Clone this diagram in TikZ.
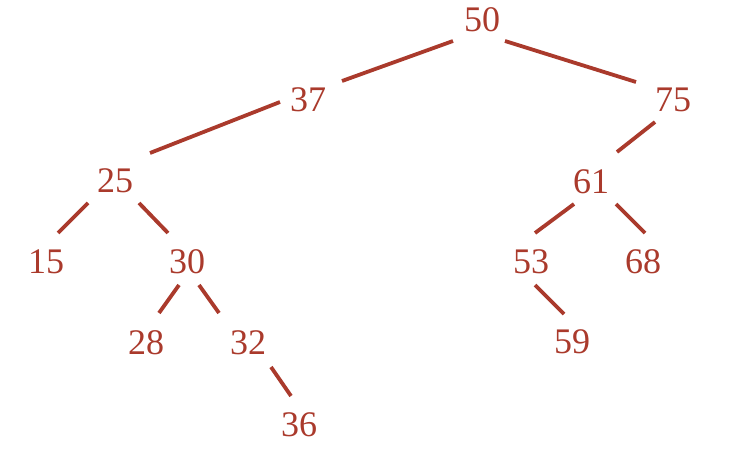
\documentclass[tikz,border=0pt]{standalone}
\usepackage{fontspec}
\setmainfont{Liberation Serif}
\usetikzlibrary{calc}
\definecolor{treered}{RGB}{170,58,44}
\begin{document}
\begin{tikzpicture}[x=1pt,y=-1pt,
  key/.style={inner sep=0pt,text=treered,font=\fontsize{36}{36}\selectfont},
  edge/.style={draw=treered,line width=3.8pt}]
\useasboundingbox (0,0) rectangle (735,454);
\node[key] (n50) at (482,20) {50};
\node[key] (n37) at (308,100) {37};
\node[key] (n75) at (673,100) {75};
\node[key] (n25) at (115,181) {25};
\node[key] (n61) at (591,182) {61};
\node[key] (n15) at (46,262) {15};
\node[key] (n30) at (187,262) {30};
\node[key] (n53) at (531,262) {53};
\node[key] (n68) at (643,262) {68};
\node[key] (n28) at (146,343) {28};
\node[key] (n32) at (248,343) {32};
\node[key] (n59) at (572,342) {59};
\node[key] (n36) at (299,425) {36};
\draw[edge] ($(n50)+(-29,21)$) -- ($(n37)+(34,-19)$);
\draw[edge] ($(n50)+(23,21)$) -- ($(n75)+(-37,-18)$);
\draw[edge] ($(n37)+(-28,2)$) -- ($(n25)+(35,-28)$);
\draw[edge] ($(n75)+(-18,22)$) -- ($(n61)+(26,-30)$);
\draw[edge] ($(n25)+(-27,22)$) -- ($(n15)+(12,-29)$);
\draw[edge] ($(n25)+(24,22)$) -- ($(n30)+(-19,-29)$);
\draw[edge] ($(n30)+(-8,23)$) -- ($(n28)+(13,-30)$);
\draw[edge] ($(n30)+(12,23)$) -- ($(n32)+(-29,-30)$);
\draw[edge] ($(n32)+(23,24)$) -- ($(n36)+(-8,-29)$);
\draw[edge] ($(n61)+(-17,22)$) -- ($(n53)+(4,-29)$);
\draw[edge] ($(n61)+(25,22)$) -- ($(n68)+(2,-29)$);
\draw[edge] ($(n53)+(4,23)$) -- ($(n59)+(-8,-28)$);
\end{tikzpicture}
\end{document}
